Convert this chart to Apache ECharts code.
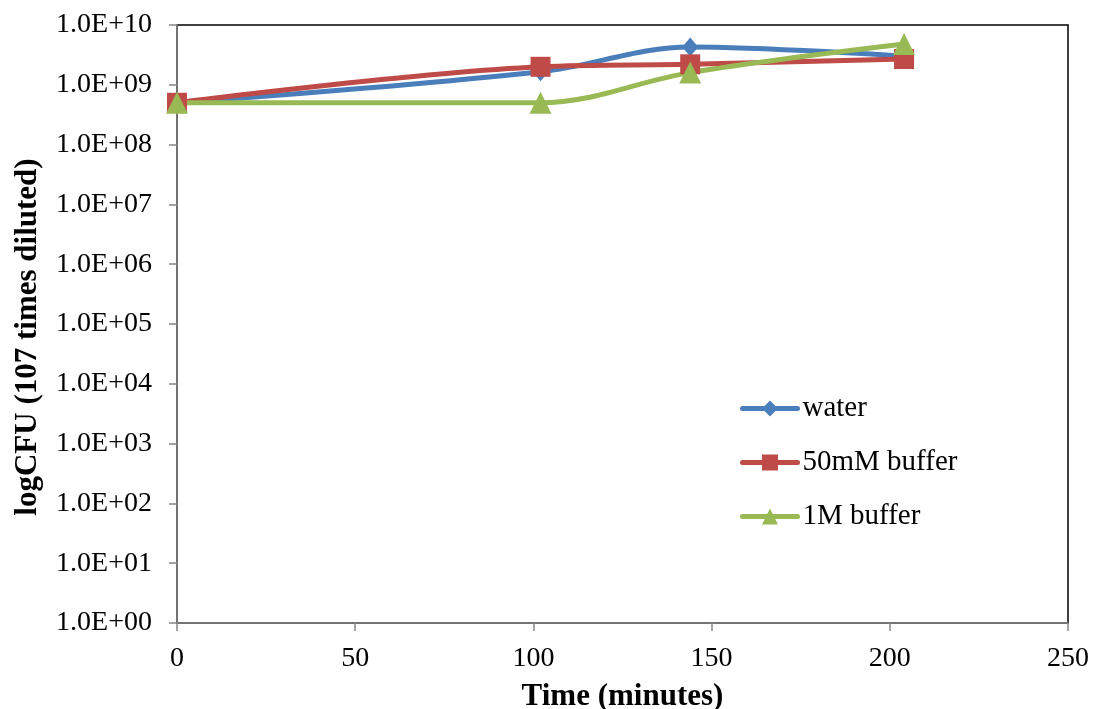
<!DOCTYPE html>
<html><head><meta charset="utf-8">
<script src="https://cdn.jsdelivr.net/npm/echarts@6/dist/echarts.min.js"></script>
<style>html,body{margin:0;padding:0;background:#fff}#c{width:1093px;height:709px}</style>
</head><body><div id="c"></div>
<script>
const times = [0, 102, 144, 204];
const water = [5.0e8, 1.65e9, 4.3e9, 3.0e9];
const buffer50mM = [5.0e8, 2.0e9, 2.2e9, 2.7e9];
const buffer1M = [5.0e8, 5.0e8, 1.6e9, 4.8e9];
const seriesNames = ['water', '50mM buffer', '1M buffer'];
const xTitle = 'Time (minutes)';
const yTitle = 'logCFU (107 times diluted)';

const font = 'Liberation Serif, Times New Roman, serif';
const pair = (xs, ys) => xs.map((x, i) => [x, ys[i]]);
const chart = echarts.init(document.getElementById('c'), null, {renderer: 'canvas'});
const mk = (name, data, color, symbol, size) => ({
  name, type: 'line', data: pair(times, data), smooth: 0.35,
  symbol, symbolSize: size,
  lineStyle: {color, width: 5, cap: 'round'}, itemStyle: {color},
  emphasis: {disabled: true}, z: 3
});
chart.setOption({
  animation: false,
  backgroundColor: '#fff',
  grid: {left: 177, top: 25, right: 25, bottom: 86, containLabel: false, outerBoundsMode: 'none',
    show: true, borderColor: '#000', borderWidth: 1.5},
  xAxis: {
    type: 'value', min: 0, max: 250, interval: 50,
    name: xTitle, nameLocation: 'middle', nameGap: 58,
    nameTextStyle: {fontFamily: font, fontSize: 31, fontWeight: 'bold', color: '#000'},
    axisLine: {show: true, lineStyle: {color: '#868686', width: 1.5}},
    axisTick: {show: true, length: 8, lineStyle: {color: '#868686', width: 1.5}},
    axisLabel: {fontFamily: font, fontSize: 28, color: '#000', margin: 22},
    splitLine: {show: false}
  },
  yAxis: {
    type: 'log', logBase: 10, min: 1, max: 1e10, interval: 1,
    name: yTitle, nameLocation: 'middle', nameGap: 134, nameRotate: 90,
    nameTextStyle: {fontFamily: font, fontSize: 31, fontWeight: 'bold', color: '#000', padding: [0, 26, 0, 0]},
    axisLine: {show: true, lineStyle: {color: '#868686', width: 1.5}},
    axisTick: {show: true, length: 8, lineStyle: {color: '#868686', width: 1.5}},
    axisLabel: {fontFamily: font, fontSize: 28, color: '#000', margin: 25,
      formatter: v => { const e = Math.round(Math.log10(v)); return '1.0E+' + (e < 10 ? '0' + e : e); }},
    splitLine: {show: false}
  },
  legend: {
    orient: 'vertical', left: 740, top: 394, itemGap: 25, padding: 0,
    itemWidth: 55, itemHeight: 20,
    lineStyle: {width: 5},
    textStyle: {fontFamily: font, fontSize: 29, color: '#000'},
    data: seriesNames
  },
  series: [
    mk(seriesNames[0], water, '#4A7EBB', 'diamond', [16, 19]),
    mk(seriesNames[1], buffer50mM, '#BE4B48', 'rect', 20),
    mk(seriesNames[2], buffer1M, '#98B954', 'triangle', 22)
  ]
});
</script></body></html>
